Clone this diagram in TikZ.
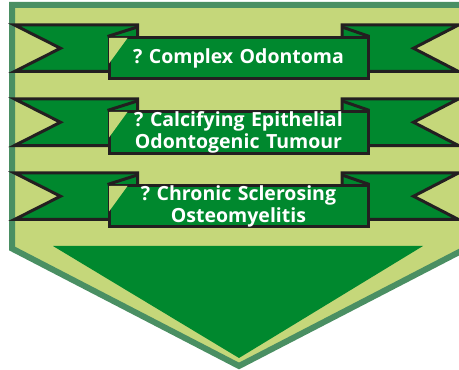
\documentclass[tikz,border=0pt]{standalone}
\usepackage{fontspec}
\setmainfont{Open Sans}
\usetikzlibrary{positioning,backgrounds}
\definecolor{leaf}{RGB}{0,136,46}
\definecolor{lime}{RGB}{197,215,122}
\definecolor{rim}{RGB}{74,143,99}
\definecolor{ink}{RGB}{35,31,32}
\tikzstyle{banner} = [rectangle, draw=ink, fill=leaf, line width=3pt,
    minimum width=259pt, minimum height=41pt, inner sep=0pt,
    text width=255pt, text centered, text=white,
    font=\fontsize{19.5}{21.5}\selectfont\bfseries\frenchspacing]
\tikzstyle{tail} = [draw=ink, fill=leaf, line width=3pt]
\tikzstyle{fold} = [draw=ink, line width=3pt]

\begin{document}
\begin{tikzpicture}[x=1pt, y=1pt, node distance=74pt]
    \useasboundingbox (0,0) rectangle (459,370);
    % Place nodes
    \node [banner] (odontoma) at (238.5,311.5) {? Complex Odontoma};
    \node [banner, below of=odontoma] (tumour) {? Calcifying Epithelial\\Odontogenic Tumour};
    \node [banner, below of=tumour] (osteo) {? Chronic Sclerosing\\Osteomyelitis};
    % Draw shield and ribbon tails
    \begin{pgfonlayer}{background}
        \path [draw=rim, fill=lime, line width=6pt] (12,365) -- (466,365) -- (466,121.5)
            -- (239,4) -- (12,121.5) -- cycle;
        \fill [leaf] (53,124) -- (423,124) -- (239,12) -- cycle;
        \foreach \b in {odontoma,tumour,osteo} {
            \path [tail] ([shift={(-93,11.5)}]\b.north west) -- ([shift={(30,11.5)}]\b.north west)
                -- ([shift={(30,9)}]\b.south west) -- ([shift={(-93,9)}]\b.south west)
                -- ([shift={(-47,10.25)}]\b.west) -- cycle;
            \path [tail] ([shift={(-27.5,11.5)}]\b.north east) -- ([shift={(89,11.5)}]\b.north east)
                -- ([shift={(44,10.25)}]\b.east) -- ([shift={(89,9)}]\b.south east)
                -- ([shift={(-27.5,9)}]\b.south east) -- cycle;
        }
    \end{pgfonlayer}
    % Draw folds
    \foreach \b in {odontoma,tumour,osteo} {
        \fill [lime] ([shift={(1.5,-1.5)}]\b.north west) -- ([shift={(20,-1.5)}]\b.north west)
            -- ([shift={(1.5,-27)}]\b.north west) -- cycle;
        \path [fold] (\b.north west) -- ([shift={(30,9.5)}]\b.north west);
        \path [fold] (\b.north east) -- ([shift={(-27.5,9.5)}]\b.north east);
    }
\end{tikzpicture}
\end{document}
